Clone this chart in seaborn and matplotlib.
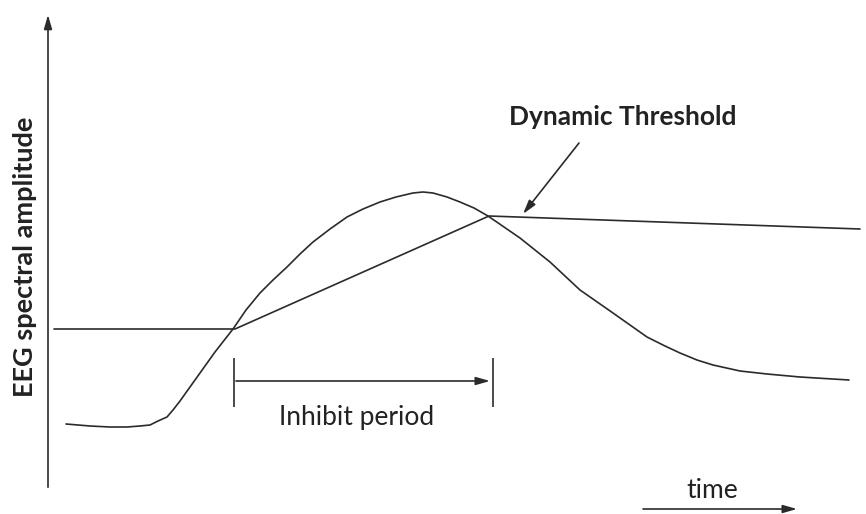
import matplotlib
matplotlib.use("Agg")
import matplotlib.pyplot as plt
import seaborn as sns
import pandas as pd

# EEG spectral amplitude over time (arbitrary units)
curve_time = [18, 42, 62, 79, 92, 102, 110, 119, 125, 132, 142, 152, 167, 185,
              198, 212, 225, 239, 252, 265, 282, 299, 315, 332, 348, 365, 375,
              385, 399, 412, 426, 440, 456, 472, 502, 532, 565, 599, 617, 632,
              649, 665, 692, 719, 752, 801]
curve_amp = [66, 64, 63, 63, 64, 65, 69, 73, 80, 89, 103, 117, 138, 161,
             180, 197, 210, 223, 236, 248, 261, 273, 281, 288, 293, 297, 298,
             297, 293, 288, 282, 274, 263, 252, 228, 200, 177, 153, 144, 137,
             130, 125, 119, 116, 113, 110]

# dynamic threshold: flat, ramps up during inhibit period, then slowly decays
thr_time = [6, 187, 441, 812]
thr_amp = [161, 161, 274, 261]

inhibit_start, inhibit_end = 186, 445
ink = "#2b2b2b"
text_ink = "#222222"
head = "-|>,head_length=0.7,head_width=0.2"

sns.set_theme(style="white")
plt.rcParams["font.family"] = ["Lato", "DejaVu Sans"]

fig = plt.figure(figsize=(8.66, 5.14), dpi=100)
ax = fig.add_axes([0, 0, 1, 1])

curve = pd.DataFrame({"time": curve_time, "amp": curve_amp})
thr = pd.DataFrame({"time": thr_time, "amp": thr_amp})
sns.lineplot(data=curve, x="time", y="amp", color=ink, lw=1.2, estimator=None, ax=ax)
sns.lineplot(data=thr, x="time", y="amp", color=ink, lw=1.2, estimator=None, ax=ax)

ax.set_xlim(-48, 818)
ax.set_ylim(-24, 490)
ax.axis("off")

# y axis arrow
ax.annotate("", xy=(0, 478), xytext=(0, 0),
            arrowprops=dict(arrowstyle=head, color=ink, lw=1.2))
ax.text(-23, 233, "EEG spectral amplitude", rotation=90, ha="center", va="center",
        fontsize=19.5, fontweight="bold", color=text_ink)

# inhibit period bracket
ax.vlines([inhibit_start, inhibit_end], 83, 132, color=ink, lw=1.2)
ax.annotate("", xy=(inhibit_end - 3, 109), xytext=(inhibit_start + 2, 109),
            arrowprops=dict(arrowstyle=head, color=ink, lw=1.2, shrinkA=0, shrinkB=0))
ax.text(309, 73, "Inhibit period", ha="center", va="center", fontsize=19, color=text_ink)

# dynamic threshold pointer
ax.annotate("", xy=(475, 276), xytext=(531, 347),
            arrowprops=dict(arrowstyle=head, color=ink, lw=1.2, shrinkA=0, shrinkB=0))
ax.text(575, 373, "Dynamic Threshold", ha="center", va="center", fontsize=19,
        fontweight="bold", color=text_ink)

# time arrow
ax.annotate("", xy=(749, -19), xytext=(595, -19),
            arrowprops=dict(arrowstyle=head, color=ink, lw=1.2, shrinkA=0, shrinkB=0))
ax.text(664, 0, "time", ha="center", va="center", fontsize=19, color=text_ink)

fig.savefig("out.png", dpi=100, facecolor="white")
